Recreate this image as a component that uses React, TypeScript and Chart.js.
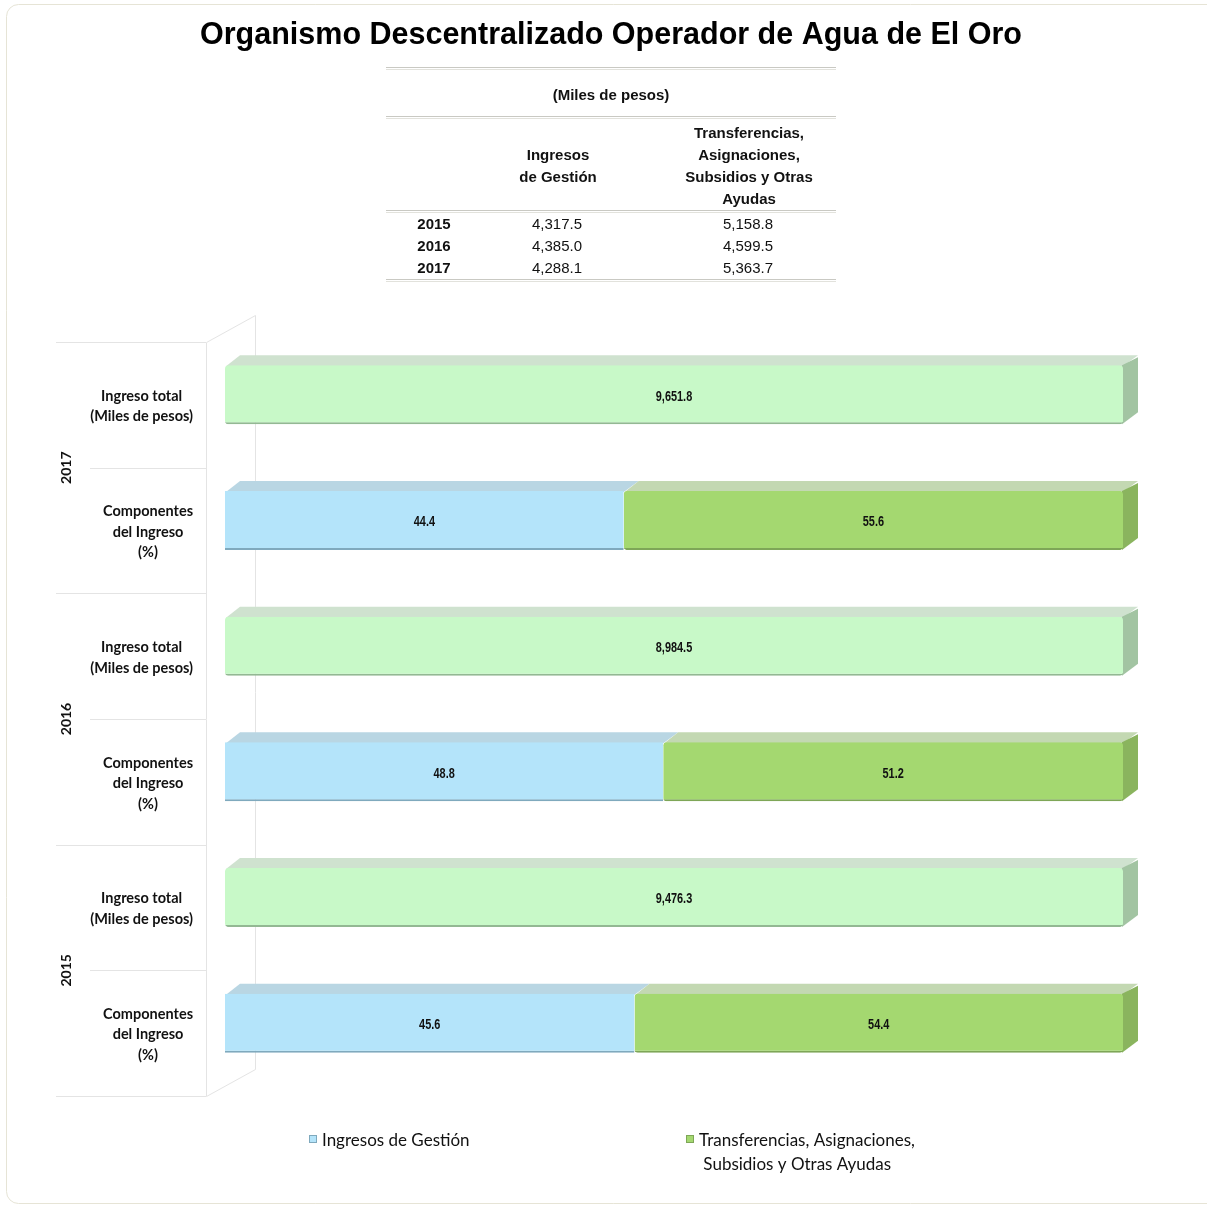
import { useEffect, useRef } from "react";
import { Chart, registerables } from "chart.js";

Chart.register(...registerables);

// ---------- data ----------
const TITLE = "Organismo Descentralizado Operador de Agua de El Oro";
const UNIT_LABEL = "(Miles de pesos)";
const YEARS = ["2015", "2016", "2017"];
const GESTION_AMOUNTS = [4317.5, 4385.0, 4288.1];
const TRANSFER_AMOUNTS = [5158.8, 4599.5, 5363.7];
const TOTAL_AMOUNTS = [9476.3, 8984.5, 9651.8];
const GESTION_PCT = [45.6, 48.8, 44.4];
const TRANSFER_PCT = [54.4, 51.2, 55.6];
const SERIES_NAMES = ["Ingresos de Gestión", "Transferencias, Asignaciones, Subsidios y Otras Ayudas", "Ingreso total"];
const TABLE_HEADERS = [["Ingresos", "de Gestión"], ["Transferencias,", "Asignaciones,", "Subsidios y Otras", "Ayudas"]];
const ROW_LABELS = [["Ingreso total", "(Miles de pesos)"], ["Componentes", "del Ingreso", "(%)"]];
const LEGEND_LINES = [["Ingresos de Gestión"], ["Transferencias, Asignaciones,", " Subsidios y Otras Ayudas"]];
const YEAR_ORDER = [2, 1, 0]; // top to bottom: 2017, 2016, 2015

// ---------- derived (100% stacked, like the original) ----------
const CATEGORIES = YEAR_ORDER.flatMap((i) => [`${YEARS[i]} total`, `${YEARS[i]} componentes`]);
const RAW_TOTAL = YEAR_ORDER.flatMap((i) => [TOTAL_AMOUNTS[i], null]);
const RAW_GESTION = YEAR_ORDER.flatMap((i) => [null, GESTION_PCT[i]]);
const RAW_TRANSFER = YEAR_ORDER.flatMap((i) => [null, TRANSFER_PCT[i]]);
const RAWS = [RAW_GESTION, RAW_TRANSFER, RAW_TOTAL];
const SUMS = CATEGORIES.map((_, c) => RAWS.reduce((s, r) => s + ((r[c] as number) ?? 0), 0));
const normalize = (r: (number | null)[]) => r.map((v, c) => (v == null ? null : (v / SUMS[c]) * 100));

// ---------- styles ----------
const STYLES = [
  { front: "#b4e4fa", top: "#b9d6e3", side: "#8fb9cc", edge: "#7fa9bd" },
  { front: "#a4d870", top: "#c3d8b2", side: "#8ab45e", edge: "#7ea657" },
  { front: "#c8f9c8", top: "#cfe2cf", side: "#a2c4a2", edge: "#93b893" },
];
const DX = 15;
const DY = 10;
const LABEL_FONT = "Lato, 'Open Sans', sans-serif";
const ARIAL = "'Liberation Sans', Arial, sans-serif";

const fmt = (v: number, thousands: boolean) =>
  thousands
    ? v.toLocaleString("en-US", { minimumFractionDigits: 1, maximumFractionDigits: 1 })
    : v.toFixed(1);

function doubleLine(ctx: CanvasRenderingContext2D, x1: number, x2: number, y: number) {
  ctx.save();
  ctx.strokeStyle = "#c9c9c3";
  ctx.lineWidth = 1;
  ctx.beginPath();
  ctx.moveTo(x1, y + 0.5);
  ctx.lineTo(x2, y + 0.5);
  ctx.stroke();
  ctx.strokeStyle = "#e2e2dc";
  ctx.beginPath();
  ctx.moveTo(x1, y + 2.5);
  ctx.lineTo(x2, y + 2.5);
  ctx.stroke();
  ctx.restore();
}

const decorPlugin = {
  id: "decor",
  beforeDraw(chart: any) {
    const ctx: CanvasRenderingContext2D = chart.ctx;
    const area = chart.chartArea;
    const yScale = chart.scales.y;
    ctx.save();
    ctx.fillStyle = "#ffffff";
    ctx.fillRect(0, 0, chart.width, chart.height);

    // outer frame
    ctx.strokeStyle = "#e6e4d6";
    ctx.lineWidth = 1;
    ctx.beginPath();
    ctx.roundRect(6.5, 4.5, 1215, 1199, 12);
    ctx.stroke();

    // title
    ctx.fillStyle = "#000";
    ctx.textAlign = "center";
    ctx.textBaseline = "middle";
    ctx.font = `bold 30.5px ${ARIAL}`;
    ctx.fillText(TITLE, 611, 36);

    // table
    const tx1 = 386, tx2 = 836;
    doubleLine(ctx, tx1, tx2, 67);
    ctx.font = `bold 15px ${ARIAL}`;
    ctx.fillStyle = "#111";
    ctx.fillText(UNIT_LABEL, 611, 96);
    doubleLine(ctx, tx1, tx2, 116);
    TABLE_HEADERS[0].forEach((t, k) => ctx.fillText(t, 558, 156 + k * 22));
    TABLE_HEADERS[1].forEach((t, k) => ctx.fillText(t, 749, 134 + k * 22));
    doubleLine(ctx, tx1, tx2, 210);
    YEARS.forEach((y, r) => {
      const yy = 225 + r * 22;
      ctx.font = `bold 15px ${ARIAL}`;
      ctx.fillText(y, 434, yy);
      ctx.font = `15px ${ARIAL}`;
      ctx.fillText(fmt(GESTION_AMOUNTS[r], true), 557, yy);
      ctx.fillText(fmt(TRANSFER_AMOUNTS[r], true), 748, yy);
    });
    doubleLine(ctx, tx1, tx2, 279);

    // category axis wall and separators
    const n = CATEGORIES.length;
    const band = yScale.getPixelForValue(1) - yScale.getPixelForValue(0);
    const bound = (i: number) => yScale.getPixelForValue(i) - band / 2 + DY;
    const wx1 = area.left - 19;
    const wx2 = area.left + 30;
    const wdy = 27;
    ctx.strokeStyle = "#e4e4e4";
    ctx.lineWidth = 1;
    for (let i = 0; i <= n; i++) {
      const y = Math.round(bound(i)) + 0.5;
      const x0 = i % 2 === 0 ? 56 : 90;
      ctx.beginPath();
      ctx.moveTo(x0, y);
      ctx.lineTo(wx1, y);
      ctx.stroke();
    }
    const yTop = Math.round(bound(0)) + 0.5;
    const yBot = Math.round(bound(n)) + 0.5;
    ctx.beginPath();
    ctx.moveTo(wx1 + 0.5, yTop);
    ctx.lineTo(wx1 + 0.5, yBot);
    ctx.moveTo(wx1 + 0.5, yTop);
    ctx.lineTo(wx2 + 0.5, yTop - wdy);
    ctx.lineTo(wx2 + 0.5, yBot - wdy);
    ctx.moveTo(wx1 + 0.5, yBot);
    ctx.lineTo(wx2 + 0.5, yBot - wdy);
    ctx.stroke();

    // category labels
    ctx.fillStyle = "#111";
    ctx.font = `bold 14.5px ${LABEL_FONT}`;
    for (let i = 0; i < n; i++) {
      const lines = ROW_LABELS[i % 2];
      const w = Math.max(...lines.map((l) => ctx.measureText(l).width));
      const cx = 193 - w / 2;
      const cy = (bound(i) + bound(i + 1)) / 2 + 1.5;
      const lh = 20.5;
      lines.forEach((l, k) => {
        ctx.fillText(l, cx, cy + (k - (lines.length - 1) / 2) * lh);
      });
    }
    // year labels
    ctx.font = `bold 14px ${LABEL_FONT}`;
    YEAR_ORDER.forEach((yi, g) => {
      const cy = bound(2 * g + 1);
      ctx.save();
      ctx.translate(66, cy);
      ctx.rotate(-Math.PI / 2);
      ctx.fillText(YEARS[yi], 0, 0);
      ctx.restore();
    });

    // legend
    ctx.textAlign = "left";
    ctx.font = `17px ${LABEL_FONT}`;
    const legendItems = [
      { x: 309, style: STYLES[0], lines: LEGEND_LINES[0] },
      { x: 686, style: STYLES[1], lines: LEGEND_LINES[1] },
    ];
    legendItems.forEach((it) => {
      ctx.fillStyle = it.style.front;
      ctx.fillRect(it.x, 1135, 8, 8);
      ctx.strokeStyle = it.style.edge;
      ctx.strokeRect(it.x + 0.5, 1135.5, 7, 7);
      ctx.fillStyle = "#111";
      it.lines.forEach((l, k) => ctx.fillText(l, it.x + 13, 1141 + k * 24));
    });
    ctx.restore();
  },
  beforeDatasetsDraw(chart: any) {
    const ctx: CanvasRenderingContext2D = chart.ctx;
    const metas = chart.data.datasets.map((_: any, d: number) => chart.getDatasetMeta(d));
    ctx.save();
    CATEGORIES.forEach((_, c) => {
      let last: any = null;
      let lastStyle: any = null;
      metas.forEach((m: any, d: number) => {
        const v = chart.data.datasets[d].data[c];
        if (v == null) return;
        const el = m.data[c];
        const { x, y, base, height } = el.getProps(["x", "y", "base", "height"], true);
        const top = y - height / 2;
        const l = Math.min(x, base), r = Math.max(x, base);
        ctx.fillStyle = STYLES[d].top;
        ctx.beginPath();
        ctx.moveTo(l + 1, top + 1);
        ctx.lineTo(l + DX, top - DY);
        ctx.lineTo(r + DX, top - DY);
        ctx.lineTo(r, top + 1);
        ctx.closePath();
        ctx.fill();
        if (!last || r > last.r) {
          last = { r, top, bottom: y + height / 2 };
          lastStyle = STYLES[d];
        }
      });
      if (last) {
        ctx.fillStyle = lastStyle.side;
        ctx.beginPath();
        ctx.moveTo(last.r - 1, last.top);
        ctx.lineTo(last.r + DX, last.top - DY + 2);
        ctx.lineTo(last.r + DX, last.bottom - DY - 2);
        ctx.lineTo(last.r - 1, last.bottom);
        ctx.closePath();
        ctx.fill();
      }
    });
    ctx.restore();
  },
  afterDatasetsDraw(chart: any) {
    const ctx: CanvasRenderingContext2D = chart.ctx;
    ctx.save();
    ctx.fillStyle = "#111";
    ctx.font = `bold 14px ${ARIAL}`;
    ctx.textAlign = "center";
    ctx.textBaseline = "middle";
    chart.data.datasets.forEach((ds: any, d: number) => {
      const m = chart.getDatasetMeta(d);
      ds.data.forEach((v: number | null, c: number) => {
        if (v == null) return;
        const { x, y, base } = m.data[c].getProps(["x", "y", "base"], true);
        const raw = ds.raw[c] as number;
        ctx.save();
        ctx.translate((x + base) / 2, y + 2);
        ctx.scale(0.78, 1);
        ctx.fillText(fmt(raw, d === 2), 0, 0);
        ctx.restore();
      });
    });
    ctx.restore();
  },
};

export default function App() {
  const ref = useRef<HTMLCanvasElement>(null);
  useEffect(() => {
    if (!ref.current) return;
    const chart = new Chart(ref.current, {
      type: "bar",
      data: {
        labels: CATEGORIES,
        datasets: RAWS.map((r, d) => ({
          label: SERIES_NAMES[d],
          data: normalize(r as (number | null)[]),
          raw: r,
          backgroundColor: STYLES[d].front,
          borderColor: STYLES[d].edge,
          borderWidth: { top: 0, left: 0, right: 0, bottom: 2 },
          borderRadius: 3,
          borderSkipped: false,
          categoryPercentage: 1,
          barPercentage: 0.47,
        })) as any,
      },
      options: {
        indexAxis: "y",
        animation: false,
        responsive: false,
        maintainAspectRatio: false,
        layout: { padding: { left: 225, right: 84, top: 332, bottom: 121 } },
        scales: {
          x: { stacked: true, min: 0, max: 100, display: false },
          y: { stacked: true, display: false },
        },
        plugins: {
          legend: { display: false },
          title: { display: false },
          tooltip: { enabled: false },
        },
      },
      plugins: [decorPlugin],
    });
    return () => chart.destroy();
  }, []);
  return (
    <div style={{ position: "absolute", left: 0, top: 0, width: 1207, height: 1207, background: "#fff" }}>
      <canvas ref={ref} width={1207} height={1207} style={{ display: "block" }} />
    </div>
  );
}
